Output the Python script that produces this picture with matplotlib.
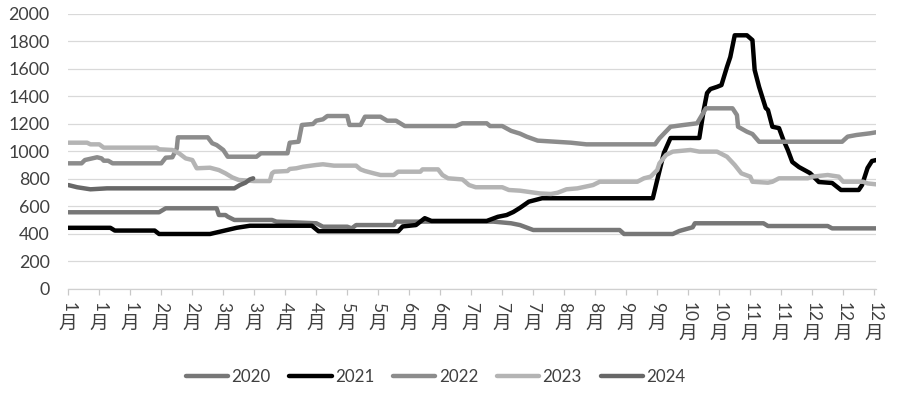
from matplotlib import pyplot as plt
import numpy as np

# day of year (0 = 1 Jan) and price
d2020 = [0, 41, 44, 67, 68, 71, 72, 75, 92, 94, 112, 115, 126, 128, 130, 147, 148, 192, 200, 204, 210, 249, 251, 273, 276, 282, 283, 314, 316, 343, 345, 365]
v2020 = [558, 558, 587, 587, 538, 538, 526, 502, 502, 490, 478, 453, 453, 441, 465, 465, 490, 490, 478, 465, 429, 429, 400, 400, 422, 449, 478, 478, 458, 458, 441, 441]

d2021 = [0, 19, 21, 39, 41, 64, 68, 76, 82, 110, 113, 149, 151, 157, 161, 164, 189, 194, 198, 201, 204, 208, 214, 264, 266, 269, 272, 285, 287, 288.5, 290, 293, 295, 297.5, 299, 301, 306.5, 309, 310, 312, 315, 316, 318, 321, 323, 325, 327, 330, 335, 339, 345, 349, 357, 358.5, 361, 363, 365]
v2021 = [445, 445, 425, 425, 400, 400, 415, 445, 460, 460, 420, 420, 455, 465, 515, 495, 495, 525, 538, 560, 590, 635, 660, 660, 793, 989, 1098, 1098, 1302, 1425, 1454, 1470, 1483, 1615, 1687, 1845, 1845, 1810, 1593, 1470, 1316, 1302, 1180, 1170, 1083, 1010, 924, 887, 843, 778, 771, 720, 720, 756, 880, 931, 938]

d2022 = [0, 6, 7.5, 13, 15, 16, 18, 20, 42, 44, 47, 49, 49.5, 63, 65, 67, 70, 72, 85, 87, 99, 100, 104, 105.5, 110.5, 112, 115, 117, 126, 127, 132, 134, 141, 144, 148, 152, 175, 178, 189, 190.5, 196, 200, 204, 207, 212, 227, 234, 265, 267, 272, 278, 284, 288, 300, 302, 302.5, 306.5, 309, 312, 349.5, 352, 356, 362, 365]
v2022 = [914, 914, 938, 958, 950, 933, 933, 914, 914, 955, 958, 1023, 1103, 1103, 1060, 1047, 1011, 962, 962, 987, 987, 1064, 1071, 1193, 1200, 1224, 1234, 1258, 1258, 1193, 1193, 1253, 1253, 1224, 1224, 1185, 1185, 1205, 1205, 1185, 1185, 1150, 1130, 1108, 1079, 1064, 1052, 1052, 1096, 1180, 1193, 1205, 1314, 1314, 1265, 1180, 1144, 1127, 1071, 1071, 1108, 1120, 1132, 1140]

d2023 = [0, 8.5, 10, 14, 16, 40, 41, 47, 50, 53, 56, 58, 64, 68, 71, 74, 77, 84, 91, 92, 93, 99, 100, 103, 106, 112, 115, 120, 130, 132, 134, 138, 141, 147, 149, 159, 160, 167, 169, 171.5, 178, 181, 184, 196, 199, 204, 213, 218, 221, 225, 230, 237, 240, 257, 260, 263, 266, 267, 270, 273, 281, 285, 293, 297.5, 301, 304, 308, 309, 316, 318, 321, 334, 336, 343, 348, 350, 359, 361, 365]
v2023 = [1064, 1064, 1052, 1052, 1028, 1028, 1016, 1011, 987, 950, 938, 878, 882, 865, 841, 812, 793, 785, 785, 841, 853, 858, 873, 878, 889, 902, 907, 897, 897, 870, 858, 841, 829, 829, 853, 853, 870, 870, 829, 805, 797, 756, 740, 740, 720, 715, 695, 691, 700, 725, 732, 756, 780, 780, 805, 817, 865, 914, 975, 999, 1011, 999, 999, 962, 902, 841, 817, 780, 773, 780, 805, 805, 817, 829, 817, 780, 780, 768, 761]

d2024 = [0, 4, 10, 17.5, 75, 77.5, 80, 82, 83.5]
v2024 = [756, 740, 725, 732, 732, 756, 773, 797, 805]

years = ['2020', '2021', '2022', '2023', '2024']
colors = ['#777777', '#000000', '#8c8c8c', '#b4b4b4', '#676767']

tick_days = list(range(0, 365, 14))
tick_months = ['1', '1', '1', '2', '2', '3', '3', '4', '4', '5', '5', '6', '6', '7', '7', '7',
               '8', '8', '9', '9', '10', '10', '11', '11', '12', '12', '12']

plt.rcParams['font.family'] = ['Lato', 'Noto Sans CJK SC', 'DejaVu Sans']

fig = plt.figure(figsize=(9, 3.94), dpi=100)
ax = fig.add_axes([0.0759, 0.2665, 0.8979, 0.698])

series = [(d2020, v2020), (d2021, v2021), (d2022, v2022), (d2023, v2023), (d2024, v2024)]
for (d, v), name, c in zip(series, years, colors):
    ax.plot(d, v, color=c, lw=3.2, label=name, solid_joinstyle='round', solid_capstyle='round', zorder=3)

ax.set_xlim(0, 365)
ax.set_ylim(0, 2000)
ax.set_yticks(np.arange(0, 2001, 200))
ax.grid(axis='y', color='#d9d9d9', lw=0.9, zorder=0)
for s in ['top', 'right', 'left']:
    ax.spines[s].set_visible(False)
ax.spines['bottom'].set_color('#d0d0d0')
ax.spines['bottom'].set_linewidth(0.9)
ax.tick_params(axis='y', length=0, pad=13.5, labelsize=12.8, labelcolor='#404040')
ax.set_xticks(tick_days)
ax.set_xticklabels([])
ax.tick_params(axis='x', length=4.5, width=0.9, color='#c8c8c8', direction='out')

# vertical category labels: digits turned, 月 upright underneath
for d, m in zip(tick_days, tick_months):
    ax.annotate(m, xy=(d, 0), xycoords=('data', 'axes fraction'), xytext=(0, -13),
                textcoords='offset pixels', rotation=-90, ha='center', va='top',
                fontsize=12.5, color='#404040', family=['Lato'])
    ax.annotate('月', xy=(d, 0), xycoords=('data', 'axes fraction'),
                xytext=(0, -(14 + 10 * len(m))), textcoords='offset pixels',
                ha='center', va='top', fontsize=13.5, color='#404040',
                family=['Noto Sans CJK SC'])

fig.legend(loc='center', bbox_to_anchor=(0.484, 0.043), ncol=5, frameon=False,
           fontsize=12.2, handlelength=2.5, handletextpad=0.2, columnspacing=1.1,
           labelcolor='#404040')

plt.savefig('out.png', dpi=100)
